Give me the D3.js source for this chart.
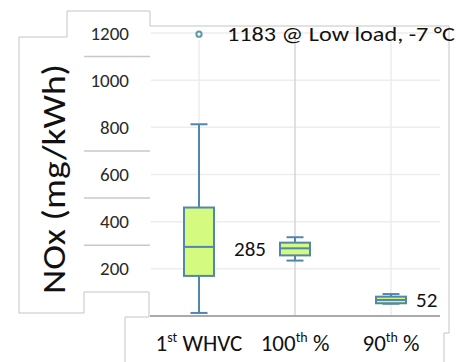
<!DOCTYPE html>
<html>
<head>
<meta charset="utf-8">
<script src="https://cdn.jsdelivr.net/npm/d3@7"></script>
<style>
  body { margin: 0; background: #fff; }
  text { font-family: Carlito, Calibri, Lato, sans-serif; }
</style>
</head>
<body>
<div id="content"></div>
<script>
// values
let categories = ["1st WHVC", "100th %", "90th %"];
let labelParts = [["1", "st", " WHVC"], ["100", "th", " %"], ["90", "th", " %"]];
let whiskerLow = [13, 235, 52];
let q1 = [170, 257, 54];
let median = [293, 287, 68];
let q3 = [460, 311, 82];
let whiskerHigh = [813, 334, 93];
let outliers = [{cat: "1st WHVC", value: 1195}];
let yTicks = [200, 400, 600, 800, 1000, 1200];
let labelSplits = [1100, 700, 500, 300];

const width = 468, height = 362;

let svg = d3.select("#content")
    .append("svg")
    .attr("width", width)
    .attr("height", height);

const y = d3.scaleLinear().domain([0, 1200]).range([316, 33]);
const x = d3.scalePoint().domain(categories).range([151, 439]).padding(0.5);

// panel outlines (pieces of the pasted picture)
let outline = d3.line();
svg.append("path")
    .attr("d", outline([[19, 37], [67, 37], [67, 11], [150, 11], [150, 26], [449, 26], [449, 333], [444, 333], [444, 362]]))
    .attr("fill", "none").attr("stroke", "#c4c4c4").attr("stroke-width", 1);
svg.append("path")
    .attr("d", outline([[19, 37], [19, 313], [84, 313], [84, 292], [149, 292], [149, 317], [125, 317], [125, 362]]))
    .attr("fill", "none").attr("stroke", "#c4c4c4").attr("stroke-width", 1);

// split lines in the tick label column
svg.append("g")
    .selectAll("line")
    .data(labelSplits)
    .enter()
    .append("line")
    .attr("x1", 84).attr("x2", 150)
    .attr("y1", d => y(d)).attr("y2", d => y(d))
    .attr("stroke", "#c8c8c8").attr("stroke-width", 1.5);

// grid
svg.append("g")
    .selectAll("line")
    .data(yTicks)
    .enter()
    .append("line")
    .attr("x1", 151).attr("x2", 440)
    .attr("y1", d => y(d)).attr("y2", d => y(d))
    .attr("stroke", "#ededed").attr("stroke-width", 1.5);

svg.append("g")
    .selectAll("line")
    .data(categories)
    .enter()
    .append("line")
    .attr("x1", d => x(d)).attr("x2", d => x(d))
    .attr("y1", 40).attr("y2", y(0))
    .attr("stroke", (d, i) => i == 1 ? "#d6d6d6" : "#ececec")
    .attr("stroke-width", 1.5);

// baseline
svg.append("line")
    .attr("x1", 150).attr("x2", 440)
    .attr("y1", y(0)).attr("y2", y(0))
    .attr("stroke", "#aaaaaa").attr("stroke-width", 2);

// y tick labels
svg.append("g")
    .selectAll("text")
    .data(yTicks)
    .enter()
    .append("text")
    .attr("x", 129)
    .attr("y", d => y(d))
    .attr("dy", "0.35em")
    .attr("text-anchor", "end")
    .attr("font-size", "19px")
    .attr("fill", "#2a2a2a")
    .text(d => d);

// y title
svg.append("text")
    .attr("transform", "translate(65,179) rotate(-90)")
    .attr("text-anchor", "middle")
    .attr("font-size", "33px")
    .attr("fill", "#111")
    .attr("textLength", 230)
    .attr("lengthAdjust", "spacingAndGlyphs")
    .text("NOx (mg/kWh)");

// boxes
const boxW = 30, capW = 17;
const stroke = "#5386ab", fill = "#d4fa80";

let boxes = svg.append("g")
    .selectAll("g")
    .data(categories)
    .enter()
    .append("g");

boxes.append("line")
    .attr("x1", d => x(d)).attr("x2", d => x(d))
    .attr("y1", (d, i) => y(whiskerHigh[i])).attr("y2", (d, i) => y(whiskerLow[i]))
    .attr("stroke", stroke).attr("stroke-width", 2);

boxes.append("line")
    .attr("x1", d => x(d) - capW / 2).attr("x2", d => x(d) + capW / 2)
    .attr("y1", (d, i) => y(whiskerHigh[i])).attr("y2", (d, i) => y(whiskerHigh[i]))
    .attr("stroke", stroke).attr("stroke-width", 2);

boxes.append("line")
    .attr("x1", d => x(d) - capW / 2).attr("x2", d => x(d) + capW / 2)
    .attr("y1", (d, i) => y(whiskerLow[i])).attr("y2", (d, i) => y(whiskerLow[i]))
    .attr("stroke", stroke).attr("stroke-width", 2);

boxes.append("rect")
    .attr("x", d => x(d) - boxW / 2)
    .attr("width", boxW)
    .attr("y", (d, i) => y(q3[i]))
    .attr("height", (d, i) => y(q1[i]) - y(q3[i]))
    .attr("fill", fill)
    .attr("stroke", stroke).attr("stroke-width", 2);

boxes.append("line")
    .attr("x1", d => x(d) - boxW / 2).attr("x2", d => x(d) + boxW / 2)
    .attr("y1", (d, i) => y(median[i])).attr("y2", (d, i) => y(median[i]))
    .attr("stroke", stroke).attr("stroke-width", 2);

// outliers
svg.append("g")
    .selectAll("circle")
    .data(outliers)
    .enter()
    .append("circle")
    .attr("cx", d => x(d.cat))
    .attr("cy", d => y(d.value))
    .attr("r", 2.6)
    .attr("fill", "#fff")
    .attr("stroke", "#5a9aa8")
    .attr("stroke-width", 2);

// annotations
svg.append("text")
    .attr("x", x(outliers[0].cat) + 28)
    .attr("y", y(outliers[0].value))
    .attr("dy", "0.36em")
    .attr("font-size", "20px")
    .attr("fill", "#111")
    .attr("textLength", 228)
    .attr("lengthAdjust", "spacingAndGlyphs")
    .text("1183 @ Low load, -7 °C");

svg.append("text")
    .attr("x", x(categories[1]) - boxW / 2 - 14)
    .attr("y", y(median[1]))
    .attr("dy", "0.36em")
    .attr("text-anchor", "end")
    .attr("font-size", "21px")
    .attr("fill", "#111")
    .text("285");

svg.append("text")
    .attr("x", x(categories[2]) + boxW / 2 + 10)
    .attr("y", y(q3[2]) + 3)
    .attr("dy", "0.36em")
    .attr("font-size", "21px")
    .attr("fill", "#111")
    .text("52");

// x labels
let xl = svg.append("g")
    .selectAll("text")
    .data(labelParts)
    .enter()
    .append("text")
    .attr("x", (d, i) => x(categories[i]))
    .attr("y", 351)
    .attr("text-anchor", "middle")
    .attr("font-size", "23px")
    .attr("fill", "#111");

xl.each(function(d) {
    let t = d3.select(this);
    t.append("tspan").text(d[0]);
    t.append("tspan").attr("font-size", "14px").attr("dy", "-9").text(d[1]);
    t.append("tspan").attr("dy", "9").text(d[2]);
});
</script>
</body>
</html>
